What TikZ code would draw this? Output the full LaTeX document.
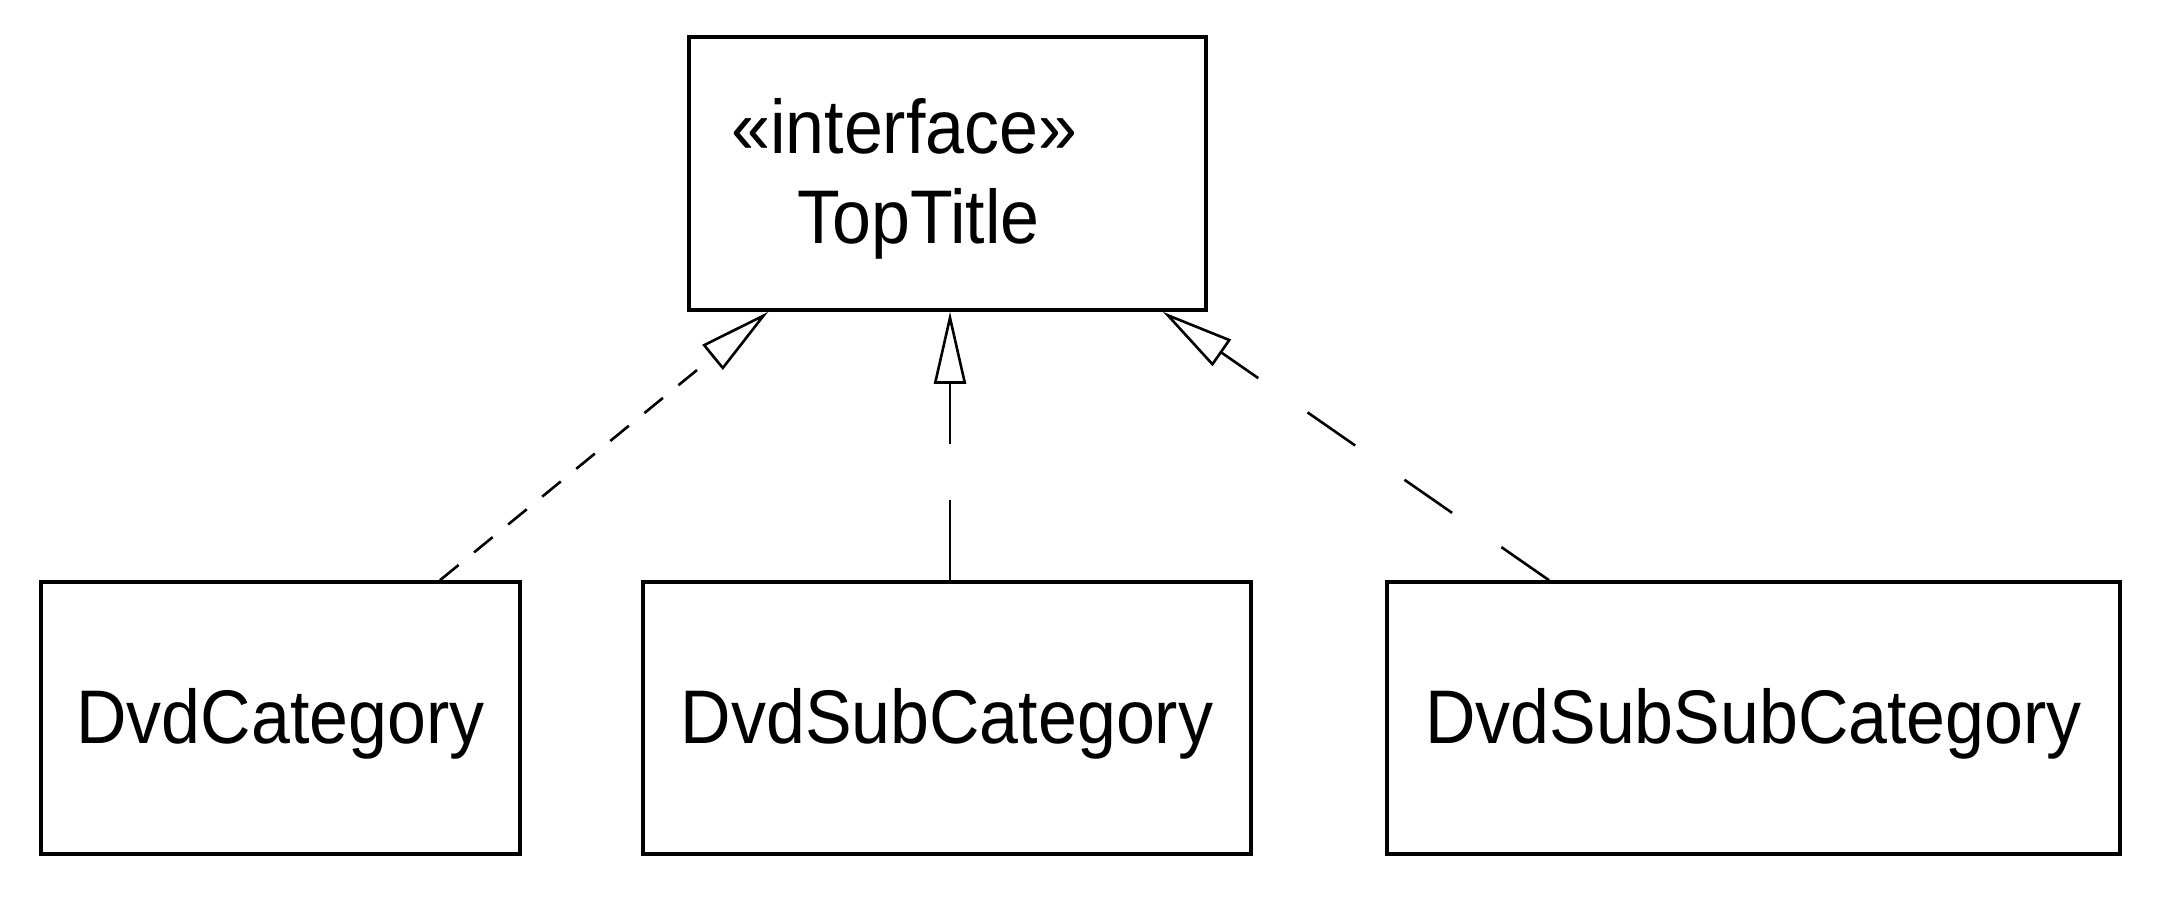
\documentclass[tikz,border=0pt]{standalone}
\usepackage{fontspec}
\setmainfont{Liberation Sans}[FakeStretch=0.92]
\usetikzlibrary{arrows.meta}
\begin{document}
\begin{tikzpicture}[x=0.5pt,y=-0.5pt,
  umlfont/.style={font=\fontsize{38}{44}\selectfont},
  box/.style={draw, line width=1.8pt, inner sep=0pt, umlfont, text height=28pt, text depth=3pt, minimum height=136pt},
  lbl/.style={inner sep=0pt, umlfont},
  realize/.style={line width=1.3pt, -{Triangle[open,length=36pt,width=16pt]}}]
\useasboundingbox[fill=white] (0,0) rectangle (2168,896);
\node[box, minimum width=258.5pt, minimum height=136.5pt] (top) at (947.5,173.5) {};
\node[lbl, anchor=base west] (iface) at (731,153) {«interface»};
\node[lbl, anchor=base west] (ttl) at (797,243) {TopTitle};
\node[box, minimum width=239.5pt] (cat) at (280.5,718) {DvdCategory};
\node[box, minimum width=304pt] (sub) at (947,718) {DvdSubCategory};
\node[box, minimum width=366.5pt] (subsub) at (1753.5,718) {DvdSubSubCategory};
\draw[realize, dash pattern=on 12pt off 10pt] ([xshift=79.75pt]cat.north) -- ([xshift=40.5pt]top.south west);
\draw[realize, dash pattern=on 40pt off 28pt] ([xshift=1.5pt]sub.north) -- ([xshift=1.5pt]sub.north |- top.south);
\draw[realize, dash pattern=on 29pt off 30pt] ([xshift=-102.25pt]subsub.north) -- ([xshift=-22.5pt]top.south east);
\end{tikzpicture}
\end{document}
